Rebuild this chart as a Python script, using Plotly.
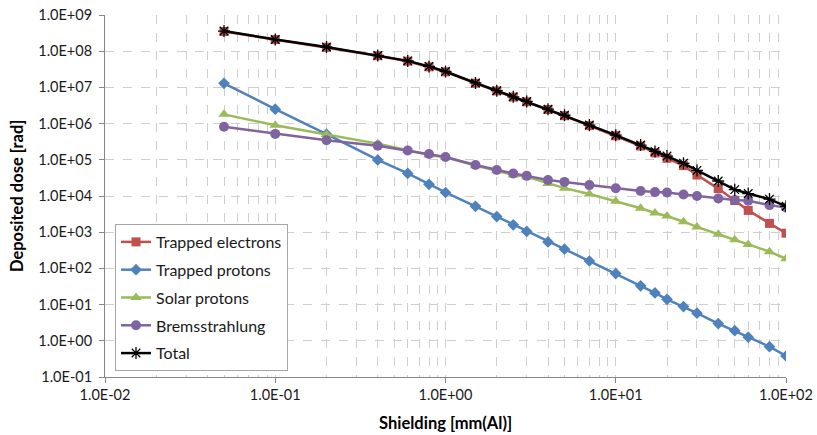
import plotly.graph_objects as go

shielding = [0.05, 0.1, 0.2, 0.4, 0.6, 0.8, 1, 1.5, 2, 2.5, 3, 4, 5, 7, 10,
             14, 17, 20, 25, 30, 40, 50, 60, 80, 100]

trapped_electrons = [3.5e8, 2.1e8, 1.28e8, 7.5e7, 5.3e7, 3.7e7, 2.7e7, 1.3e7, 8.0e6, 5.4e6,
                     4.0e6, 2.45e6, 1.65e6, 8.8e5, 4.6e5, 2.4e5, 1.55e5, 1.1e5, 6.9e4, 3.8e4,
                     1.6e4, 7.5e3, 4.0e3, 1.75e3, 9.4e2]
trapped_protons = [1.3e7, 2.5e6, 5.1e5, 9.9e4, 4.2e4, 2.1e4, 1.25e4, 5.2e3, 2.7e3, 1.6e3,
                   1.05e3, 5.4e2, 3.4e2, 1.6e2, 72, 33, 21, 14, 8.8, 5.8,
                   3.0, 1.9, 1.26, 0.69, 0.38]
solar_protons = [1.8e6, 9.0e5, 5.0e5, 2.8e5, 1.85e5, 1.35e5, 1.18e5, 6.9e4, 5.0e4, 3.8e4,
                 3.4e4, 2.2e4, 1.65e4, 1.13e4, 7.2e3, 4.6e3, 3.4e3, 2.8e3, 1.95e3, 1.4e3,
                 880, 620, 460, 290, 185]
bremsstrahlung = [8.2e5, 5.2e5, 3.45e5, 2.45e5, 1.8e5, 1.45e5, 1.2e5, 7.2e4, 5.2e4, 4.2e4,
                  3.6e4, 2.77e4, 2.45e4, 2.0e4, 1.63e4, 1.38e4, 1.28e4, 1.25e4, 1.1e4, 1.0e4,
                  8.5e3, 7.7e3, 7.4e3, 5.6e3, 4.8e3]
total = [3.6e8, 2.1e8, 1.3e8, 7.6e7, 5.4e7, 3.8e7, 2.75e7, 1.33e7, 8.1e6, 5.5e6,
         4.1e6, 2.5e6, 1.7e6, 9.1e5, 4.8e5, 2.55e5, 1.7e5, 1.27e5, 8.0e4, 5.1e4,
         2.6e4, 1.5e4, 1.17e4, 8.2e3, 5.2e3]

x_tickvals = [0.01, 0.1, 1, 10, 100]
x_ticktext = ["1.0E-02", "1.0E-01", "1.0E+00", "1.0E+01", "1.0E+02"]
y_tickvals = [1e-1, 1e0, 1e1, 1e2, 1e3, 1e4, 1e5, 1e6, 1e7, 1e8, 1e9]
y_ticktext = ["1.0E-01", "1.0E+00", "1.0E+01", "1.0E+02", "1.0E+03", "1.0E+04",
              "1.0E+05", "1.0E+06", "1.0E+07", "1.0E+08", "1.0E+09"]
x_minor = [m * d for d in [0.01, 0.1, 1, 10] for m in range(2, 10)]

FONT = "Lato"
TXT = "#1a1a1a"

series = [
    ("Trapped electrons", trapped_electrons, "#C0504D", "square", 9),
    ("Trapped protons", trapped_protons, "#4F81BD", "diamond", 9),
    ("Solar protons", solar_protons, "#9BBB59", "triangle-up", 10),
    ("Bremsstrahlung", bremsstrahlung, "#8064A2", "circle", 10),
]

fig = go.Figure()
for i, (name, vals, col, sym, sz) in enumerate(series):
    fig.add_trace(go.Scatter(
        x=shielding, y=vals, name=name, mode="lines+markers", legendgroup=str(i),
        line=dict(color=col, width=2.5),
        marker=dict(symbol=sym, size=sz, color=col),
    ))
fig.add_trace(go.Scatter(
    x=shielding, y=total, name="Total", mode="lines+markers", legendgroup="t",
    line=dict(color="black", width=2.5),
    marker=dict(symbol="asterisk-open", size=10, color="black", line=dict(color="black", width=1.3)),
))

grid = "#cfcfcf"
fig.update_layout(
    width=817, height=435,
    margin=dict(l=105, r=31, t=15, b=58, autoexpand=False),
    paper_bgcolor="white", plot_bgcolor="white",
    font=dict(family=FONT, size=14, color=TXT),
    showlegend=True,
    legend=dict(
        x=0.0147, y=0.4227, xanchor="left", yanchor="top",
        bordercolor="#a6a6a6", borderwidth=1, bgcolor="white",
        font=dict(family=FONT, size=16, color=TXT),
        tracegroupgap=4, itemwidth=30,
    ),
    xaxis=dict(
        type="log", range=[-2, 2], tickvals=x_tickvals, ticktext=x_ticktext,
        showgrid=True, gridcolor=grid, griddash="dash", gridwidth=1,
        minor=dict(tickvals=x_minor, showgrid=True, gridcolor=grid, griddash="dash", gridwidth=1, ticks=""),
        showline=True, linecolor="#868686", linewidth=1,
        ticks="outside", ticklen=5, tickcolor="#868686",
        zeroline=False, mirror=False, automargin=False,
        tickfont=dict(family=FONT, size=14.5, color=TXT),
    ),
    yaxis=dict(
        type="log", range=[-1, 9], tickvals=y_tickvals, ticktext=y_ticktext,
        showgrid=True, gridcolor=grid, griddash="dash", gridwidth=1,
        showline=True, linecolor="#868686", linewidth=1,
        ticks="outside", ticklen=5, tickcolor="#868686",
        zeroline=False, mirror=False, ticklabelstandoff=4, automargin=False,
        tickfont=dict(family=FONT, size=14.5, color=TXT),
    ),
    annotations=[
        dict(text="<b>Shielding [mm(Al)]</b>", xref="paper", yref="paper",
             x=0.5, y=0, yshift=-46, xanchor="center", yanchor="middle",
             showarrow=False, font=dict(family=FONT, size=16.5, color="black")),
        dict(text="<b>Deposited dose [rad]</b>", xref="paper", yref="paper",
             x=0, xshift=-88, y=0.5, xanchor="center", yanchor="middle", textangle=-90,
             showarrow=False, font=dict(family=FONT, size=16.5, color="black")),
    ],
)

fig.write_html("out.html")
